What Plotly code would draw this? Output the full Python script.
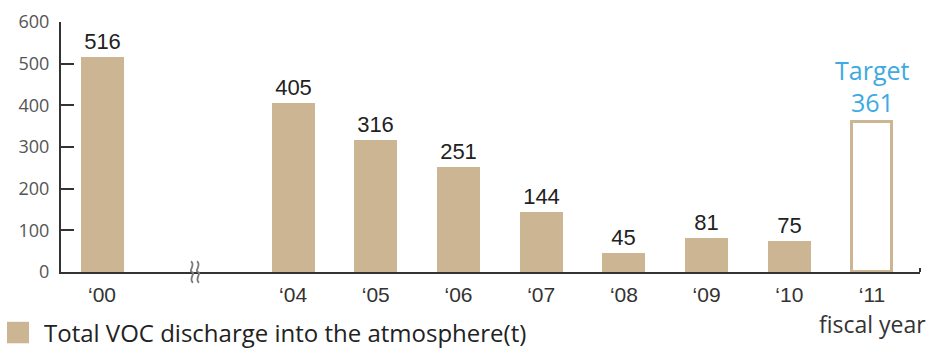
import plotly.graph_objects as go

# Fiscal years and total VOC discharge (t)
years = ["\u201800", "\u201804", "\u201805", "\u201806", "\u201807", "\u201808", "\u201809", "\u201810"]
discharge = [516, 405, 316, 251, 144, 45, 81, 75]
target_year = "\u201811"
target_value = 361

y_ticks = [0, 100, 200, 300, 400, 500, 600]

# Horizontal layout: one slot per year, with a compressed gap after '00
SLOT_GAP_AFTER_FIRST = 2.31
x_pos = [0] + [SLOT_GAP_AFTER_FIRST + i for i in range(len(years) - 1)]
target_pos = x_pos[-1] + 1
BAR_W = 0.52

# Plot-area geometry in pixels (used for paper-anchored decorations)
FIG_W, FIG_H = 929, 353
M_L, M_R, M_T, M_B = 61, 9, 16, 81
PLOT_W = FIG_W - M_L - M_R
PLOT_H = FIG_H - M_T - M_B


def px_to_paper(px, py):
    return (px - M_L) / PLOT_W, (FIG_H - M_B - py) / PLOT_H


TAN = "#ccb593"
BLUE = "#3daae2"
AXIS = "#333333"
SANS = "Open Sans, Noto Sans, sans-serif"
ARIAL = "Liberation Sans, Arial, sans-serif"

fig = go.Figure()

fig.add_trace(go.Bar(
    x=x_pos, y=discharge, width=BAR_W,
    marker=dict(color=TAN, line=dict(width=0)),
    text=[str(v) for v in discharge], textposition="outside",
    texttemplate="%{text}", constraintext="none", cliponaxis=False,
    textfont=dict(family=ARIAL, size=22, color="#222222"),
    showlegend=False, hoverinfo="skip",
))

fig.add_trace(go.Bar(
    x=[target_pos], y=[target_value], width=BAR_W - 0.04,
    marker=dict(color="white", line=dict(color=TAN, width=3)),
    showlegend=False, hoverinfo="skip",
))

# Target label above the planned bar
fig.add_annotation(
    x=target_pos, y=target_value, xref="x", yref="y",
    text=str(target_value), showarrow=False,
    yanchor="bottom", yshift=1,
    font=dict(family=SANS, size=25, color=BLUE),
)
fig.add_annotation(
    x=target_pos, y=target_value, xref="x", yref="y",
    text="Target", showarrow=False,
    yanchor="bottom", yshift=33,
    font=dict(family=SANS, size=25, color=BLUE),
)

# Axis caption under the last year
fig.add_annotation(
    x=target_pos, y=0, xref="x", yref="y", text="fiscal year",
    showarrow=False, yanchor="top", yshift=-34,
    font=dict(family=SANS, size=23, color="#333333"),
)

# Axis break marks (two wavy strokes) between '00 and '04
BREAK_PX = 195
for dx in (-3, 3):
    pts = [(BREAK_PX + dx - 1, 261), (BREAK_PX + dx + 4, 265), (BREAK_PX + dx - 4, 271),
           (BREAK_PX + dx, 272), (BREAK_PX + dx + 4, 273), (BREAK_PX + dx - 4, 279),
           (BREAK_PX + dx + 1, 283)]
    p = [px_to_paper(*q) for q in pts]
    path = "M {:.5f},{:.5f} C {:.5f},{:.5f} {:.5f},{:.5f} {:.5f},{:.5f} C {:.5f},{:.5f} {:.5f},{:.5f} {:.5f},{:.5f}".format(
        *[c for xy in p for c in xy])
    fig.add_shape(type="path", xref="paper", yref="paper", path=path,
                  line=dict(color="#7a7a7a", width=1.8))

# Small end tick at the right end of the x axis
fig.add_shape(type="line", xref="paper", yref="paper", x0=1, x1=1, y0=0, y1=4 / PLOT_H,
              line=dict(color=AXIS, width=2))

# Legend swatch and caption
sx0, sy0 = px_to_paper(7, 345)
sx1, sy1 = px_to_paper(29, 323)
fig.add_shape(type="rect", xref="paper", yref="paper",
              x0=sx0, x1=sx1, y0=sy0, y1=sy1,
              fillcolor=TAN, line=dict(width=0))
tx, ty = px_to_paper(42, 334)
fig.add_annotation(
    x=tx, y=ty, xref="paper", yref="paper",
    text="Total VOC discharge into the atmosphere(t)", showarrow=False,
    xanchor="left", yanchor="middle",
    font=dict(family=SANS, size=24, color="#222222"),
)

fig.update_layout(
    width=FIG_W, height=FIG_H,
    margin=dict(l=M_L, r=M_R, t=M_T, b=M_B),
    paper_bgcolor="white", plot_bgcolor="white",
    bargap=0, showlegend=False,
)

fig.update_xaxes(
    range=[-0.496, 9.89], showgrid=False, zeroline=False,
    showline=True, linecolor=AXIS, linewidth=2,
    tickvals=x_pos + [target_pos], ticktext=years + [target_year],
    ticks="", ticklabelstandoff=3,
    tickfont=dict(family=ARIAL, size=21, color="#333333"),
)

fig.update_yaxes(
    range=[0, 600], tickvals=y_ticks, showgrid=False, zeroline=False,
    showline=True, linecolor=AXIS, linewidth=2,
    ticks="inside", ticklen=13, tickwidth=2, tickcolor=AXIS,
    ticklabelstandoff=6,
    tickfont=dict(family=SANS, size=18, color="#555555"),
)

fig.write_html("out.html")
